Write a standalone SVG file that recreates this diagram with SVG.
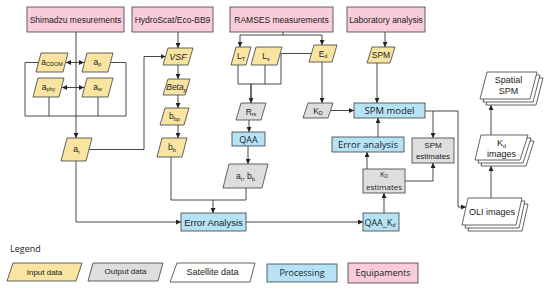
<svg xmlns="http://www.w3.org/2000/svg" width="550" height="289" viewBox="0 0 550 289">
<defs>
<style>
.inp{fill:#F9E5A1;stroke:#3c3c3c;stroke-width:0.8}
.out{fill:#DEDEDE;stroke:#3c3c3c;stroke-width:0.8}
.sat{fill:#FFFFFF;stroke:#3c3c3c;stroke-width:0.8}
.proc{fill:#B5E3F5;stroke:#3c3c3c;stroke-width:0.8}
.eq{fill:#F8CCD9;stroke:#3c3c3c;stroke-width:0.8}
.ln{fill:none;stroke:#333;stroke-width:0.9}
.a{marker-end:url(#ah)}
.t{font-family:"Liberation Sans",Arial,sans-serif;font-size:8.5px;fill:#222;text-anchor:middle}
.c{font-family:"Open Sans","Noto Sans",sans-serif;font-size:8.5px;fill:#222;text-anchor:middle}
.s{font-size:5.5px}
</style>
<marker id="ah" viewBox="0 0 10 10" refX="10" refY="5" markerWidth="5" markerHeight="5" markerUnits="userSpaceOnUse" orient="auto-start-reverse">
<path d="M0,0 L10,5 L0,10 z" fill="#222"/>
</marker>
</defs>

<g id="connectors">
<path class="ln a" d="M76,32 V138"/>
<path class="ln" d="M66,62.5 H84" marker-start="url(#ah)" marker-end="url(#ah)"/>
<path class="ln" d="M62,87.5 H84" marker-start="url(#ah)" marker-end="url(#ah)"/>
<path class="ln" d="M38.5,62.5 H25 V116 H126 V62.5 H110.5"/>
<path class="ln" d="M49,97 V116 M98,97 V116"/>
<path class="ln a" d="M89,149.5 H144 V56.5 H165.5"/>
<path class="ln a" d="M76,161 V222 H181"/>
<path class="ln a" d="M178,32 V48"/>
<path class="ln a" d="M178,65 V79"/>
<path class="ln a" d="M178,95 V108"/>
<path class="ln a" d="M178,125 V138"/>
<path class="ln" d="M171,157 V200 H246 V188"/>
<path class="ln a" d="M213,200 V213"/>
<path class="ln" d="M283,32 V35"/>
<path class="ln a" d="M240,35 H322 V45"/>
<path class="ln a" d="M240,35 V47"/>
<path class="ln" d="M238,65 V84 H281 M265,65 V84 M311,53.5 H281 V84"/>
<path class="ln a" d="M251,84 V103" style="stroke-width:1.4"/>
<path class="ln a" d="M249,120 V132"/>
<path class="ln a" d="M248,146 V164"/>
<path class="ln a" d="M322,62 V103"/>
<path class="ln a" d="M331,110.5 H354"/>
<path class="ln a" d="M385,32 V47"/>
<path class="ln a" d="M377,63 V103"/>
<path class="ln a" d="M246,222 H363"/>
<path class="ln a" d="M384,213 V193"/>
<path class="ln a" d="M367,169 V152"/>
<path class="ln a" d="M378,137 V118"/>
<path class="ln a" d="M405,181 H433 V163"/>
<path class="ln" d="M425,111 H458"/>
<path class="ln a" d="M433,111 V138"/>
<path class="ln a" d="M458,111 V207 H466"/>
<path class="ln a" d="M491,198 V166"/>
<path class="ln a" d="M491,135 V105"/>
</g>

<g id="shimadzu"><rect class="eq" x="27" y="7" width="97" height="25"/><text class="t" x="75.5" y="22.5">Shimadzu mesurements</text></g>
<g id="hydroscat"><rect class="eq" x="132" y="7" width="81" height="25"/><text class="t" x="172.5" y="22.5">HydroScat/Eco-BB9</text></g>
<g id="ramses"><rect class="eq" x="230" y="7" width="103" height="25"/><text class="t" x="281.5" y="22.5">RAMSES measurements</text></g>
<g id="lab"><rect class="eq" x="347" y="7" width="78" height="25"/><text class="t" x="386" y="22.5">Laboratory analysis</text></g>

<g id="acdom"><polygon class="inp" points="41,53 68,53 63,72 36,72"/><text class="t" x="52" y="64.5">a<tspan class="s" dy="1.5">CDOM</tspan></text></g>
<g id="ap"><polygon class="inp" points="87,53 113,53 108,72 82,72"/><text class="t" x="97.5" y="64.5">a<tspan class="s" dy="1.5">p</tspan></text></g>
<g id="aphy"><polygon class="inp" points="38,78 64,78 59,97 33,97"/><text class="t" x="48.5" y="89.5">a<tspan class="s" dy="1.5">phy</tspan></text></g>
<g id="aw"><polygon class="inp" points="87,78 113,78 108,97 82,97"/><text class="t" x="97.5" y="89.5">a<tspan class="s" dy="1.5">w</tspan></text></g>
<g id="at"><polygon class="inp" points="67,138 92,138 86,161 61,161"/><text class="t" x="76.5" y="152">a<tspan class="s" dy="1.5">t</tspan></text></g>

<g id="vsf"><polygon class="inp" points="168,48 193,48 188,65 163,65"/><text class="t" x="178" y="60" font-style="italic" style="font-size:9px">VSF</text></g>
<g id="betap"><polygon class="inp" points="168,79 190,79 185,95 163,95"/><text class="t" x="176.5" y="90" font-style="italic">Beta<tspan class="s" dy="1.5">p</tspan></text></g>
<g id="bbp"><polygon class="inp" points="165,108 189,108 184,125 160,125"/><text class="t" x="174.5" y="119">b<tspan class="s" dy="1.5">bp</tspan></text></g>
<g id="bb"><polygon class="inp" points="162,138 187,138 182,157 157,157"/><text class="t" x="172" y="150">b<tspan class="s" dy="1.5">b</tspan></text></g>

<g id="lt"><polygon class="inp" points="236,47 251,47 246,65 231,65"/><text class="t" x="241" y="59">L<tspan class="s" dy="1.5">T</tspan></text></g>
<g id="ls"><polygon class="inp" points="256,47 282,47 277,65 251,65"/><text class="t" x="266" y="59">L<tspan class="s" dy="1.5">s</tspan></text></g>
<g id="ed"><polygon class="inp" points="314,45 337,45 332,62 309,62"/><text class="t" x="323" y="56.5">E<tspan class="s" dy="1.5">d</tspan></text></g>
<g id="rrs"><polygon class="out" points="241,103 266,103 261,120 236,120"/><text class="t" x="251" y="114.5">R<tspan class="s" dy="1.5">rs</tspan></text></g>
<g id="qaa"><rect class="proc" x="232" y="132" width="33" height="14"/><text class="c" x="248.5" y="142.5" style="font-size:9px">QAA</text></g>
<g id="atbb"><polygon class="out" points="229,164 268,164 262,188 223,188"/><text class="t" x="245.5" y="179">a<tspan class="s" dy="1.5">t</tspan><tspan dy="-1.5">, b</tspan><tspan class="s" dy="1.5">b</tspan></text></g>
<g id="kd"><polygon class="out" points="308,103 333,103 328,118 303,118"/><text class="t" x="318" y="113.5">K<tspan class="s" dy="1.5">D</tspan></text></g>

<g id="spm"><polygon class="inp" points="372,47 395,47 390,63 367,63"/><text class="t" x="381" y="58">SPM</text></g>
<g id="spmmodel"><rect class="proc" x="354" y="103" width="71" height="15"/><text class="c" x="389.5" y="114" style="font-size:9.5px">SPM model</text></g>
<g id="erroranalysis2"><rect class="proc" x="332" y="137" width="72" height="15"/><text class="c" x="368" y="148" style="font-size:9.5px">Error analysis</text></g>
<g id="kdest"><rect class="out" x="363" y="169" width="42" height="24"/><text class="c" x="384" y="177" style="font-size:7.5px">K<tspan class="s" dy="1" style="font-size:5px">D</tspan></text><text class="c" x="384" y="190" style="font-size:8px">estimates</text></g>
<g id="qaakd"><rect class="proc" x="363" y="213" width="36" height="18"/><text class="c" x="380" y="225.5" style="font-size:9px">QAA_K<tspan class="s" dy="1.5">d</tspan></text></g>
<g id="spmest"><rect class="out" x="412" y="138" width="42" height="25"/><text class="t" x="433" y="148" style="font-size:8px">SPM</text><text class="t" x="433" y="159" style="font-size:8px">estimates</text></g>
<g id="erroranalysis"><rect class="proc" x="181" y="213" width="65" height="18"/><text class="t" x="213.5" y="225.5" style="font-size:9.5px">Error Analysis</text></g>

<g id="oli">
<polygon class="sat" points="474,204 528,204 522,231 468,231"/>
<polygon class="sat" points="471,201 525,201 519,228 465,228"/>
<polygon class="sat" points="468,198 522,198 516,225 462,225"/>
<text class="t" x="492" y="215" style="font-size:9px">OLI images</text></g>
<g id="kdimages">
<polygon class="sat" points="487,141 534,141 526,166 481,166"/>
<polygon class="sat" points="484,138 531,138 523,163 478,163"/>
<polygon class="sat" points="481,135 528,135 520,160 475,160"/>
<text class="t" x="501.5" y="146" style="font-size:9px">K<tspan class="s" dy="1.5">d</tspan></text>
<text class="t" x="501.5" y="157" style="font-size:9px">images</text></g>
<g id="spatialspm">
<polygon class="sat" points="493,78 543,78 536,105 486,105"/>
<polygon class="sat" points="490,75 540,75 533,102 483,102"/>
<polygon class="sat" points="487,72 537,72 530,99 480,99"/>
<text class="t" x="508.5" y="83" style="font-size:9px">Spatial</text>
<text class="t" x="508.5" y="94" style="font-size:9px">SPM</text></g>

<g id="legend">
<text class="c" x="10" y="252" style="text-anchor:start;font-size:9px">Legend</text>
<polygon class="inp" points="13,263 82,263 76,281 7,281"/><text class="t" x="44.5" y="274.5" style="font-size:8px">Input data</text>
<polygon class="out" points="93,263 163,263 158,281 88,281"/><text class="t" x="125.5" y="274" style="font-size:8px">Output data</text>
<polygon class="sat" points="177,263 255,263 250,282 170,282"/><text class="t" x="212.5" y="275" style="font-size:9px">Satellite data</text>
<rect class="proc" x="267" y="264" width="70" height="18"/><text class="c" x="302" y="275.5" style="font-size:9px">Processing</text>
<rect class="eq" x="348" y="263" width="70" height="20"/><text class="c" x="383" y="276" style="font-size:9px">Equipaments</text>
</g>
</svg>
